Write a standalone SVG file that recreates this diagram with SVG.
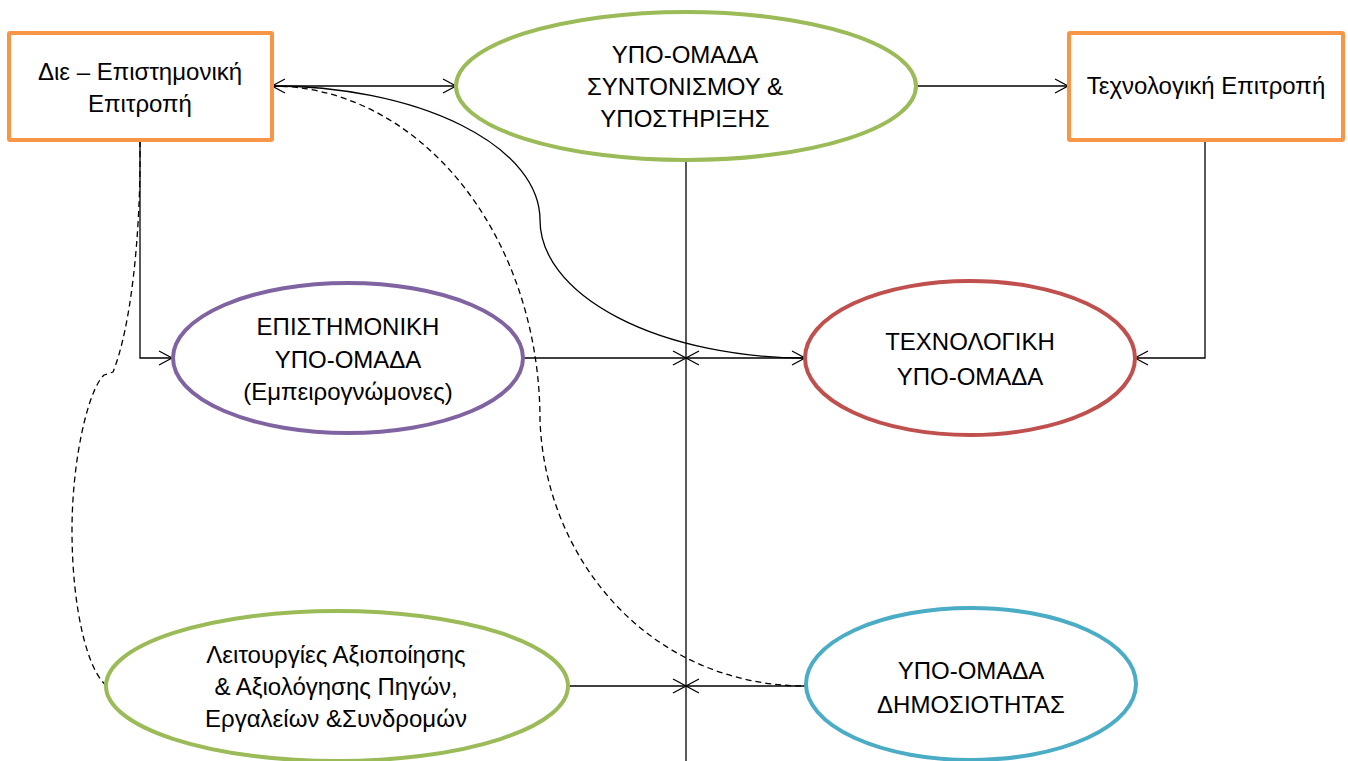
<svg xmlns="http://www.w3.org/2000/svg" width="1348" height="761" viewBox="0 0 1348 761">
<style>
  .lbl { font-family: "Liberation Sans", Arial, sans-serif; font-size: 24px; fill: #000; text-anchor: middle; }
  .box { fill: #fff; stroke: #F79646; stroke-width: 4; }
  .ell { fill: #fff; stroke-width: 4; }
  .conn { fill: none; stroke: #000; stroke-width: 1.3; }
  .dash { fill: none; stroke: #000; stroke-width: 1.3; stroke-dasharray: 6 4; }
</style>
<defs>
  <marker id="arr" viewBox="-15 -9 17 18" refX="0" refY="0" markerWidth="17" markerHeight="18" markerUnits="userSpaceOnUse" orient="auto-start-reverse" overflow="visible">
    <path d="M-13,-7 L0,0 L-13,7" fill="none" stroke="#000" stroke-width="1.3"/>
  </marker>
</defs>
<rect width="1348" height="761" fill="#fff"/>

<g id="connectors">
  <line class="conn" x1="686" y1="160" x2="686" y2="761"/>
  <line class="conn" x1="272" y1="86" x2="456" y2="86" marker-start="url(#arr)" marker-end="url(#arr)"/>
  <line class="conn" x1="916" y1="86" x2="1068" y2="86" marker-end="url(#arr)"/>
  <polyline class="conn" points="140,141 140,358 172,358" marker-end="url(#arr)"/>
  <polyline class="conn" points="1205,141 1205,358 1135,358" marker-end="url(#arr)"/>
  <line class="conn" x1="523" y1="358" x2="686" y2="358" marker-end="url(#arr)"/>
  <line class="conn" x1="805" y1="358" x2="686" y2="358" marker-end="url(#arr)"/>
  <line class="conn" x1="568" y1="686" x2="686" y2="686" marker-end="url(#arr)"/>
  <line class="conn" x1="806" y1="686" x2="686" y2="686" marker-end="url(#arr)"/>
  <path class="conn" d="M272,86 A268,134 0 0 1 540,220 A266,138 0 0 0 805,358" marker-end="url(#arr)"/>
  <path class="dash" d="M272,86 A268,334 0 0 1 540,420 C545,560 650,686 806,686"/>
  <path class="dash" d="M140,141 C141,240 130,330 113,372 L104,375 C88,390 72,460 72,530 C72,610 88,672 107,686"/>
</g>

<g id="node-die">
  <rect class="box" x="9" y="33" width="263" height="107" rx="1"/>
  <text class="lbl" x="140" y="80">Διε – Επιστημονική</text>
  <text class="lbl" x="140" y="112">Επιτροπή</text>
</g>

<g id="node-syntonismou">
  <ellipse class="ell" stroke="#9BBB59" cx="686" cy="86" rx="230" ry="74"/>
  <text class="lbl" x="685" y="63">ΥΠΟ-ΟΜΑΔΑ</text>
  <text class="lbl" x="685" y="95">ΣΥΝΤΟΝΙΣΜΟΥ &amp;</text>
  <text class="lbl" x="685" y="127">ΥΠΟΣΤΗΡΙΞΗΣ</text>
</g>

<g id="node-tech-committee">
  <rect class="box" x="1069" y="33" width="274" height="107" rx="1"/>
  <text class="lbl" x="1206" y="94">Τεχνολογική Επιτροπή</text>
</g>

<g id="node-epistimoniki">
  <ellipse class="ell" stroke="#8064A2" cx="348" cy="358" rx="175" ry="75"/>
  <text class="lbl" x="348" y="335">ΕΠΙΣΤΗΜΟΝΙΚΗ</text>
  <text class="lbl" x="348" y="368">ΥΠΟ-ΟΜΑΔΑ</text>
  <text class="lbl" x="348" y="400">(Εμπειρογνώμονες)</text>
</g>

<g id="node-technologiki">
  <ellipse class="ell" stroke="#C0504D" cx="970" cy="358" rx="165" ry="77"/>
  <text class="lbl" x="970" y="350">ΤΕΧΝΟΛΟΓΙΚΗ</text>
  <text class="lbl" x="970" y="385">ΥΠΟ-ΟΜΑΔΑ</text>
</g>

<g id="node-leitourgies">
  <ellipse class="ell" stroke="#9BBB59" cx="337" cy="686" rx="231" ry="75"/>
  <text class="lbl" x="336" y="663">Λειτουργίες Αξιοποίησης</text>
  <text class="lbl" x="336" y="695">&amp; Αξιολόγησης Πηγών,</text>
  <text class="lbl" x="336" y="727">Εργαλείων &amp;Συνδρομών</text>
</g>

<g id="node-dimosiotitas">
  <ellipse class="ell" stroke="#4BACC6" cx="971" cy="684" rx="165" ry="76"/>
  <text class="lbl" x="971" y="679">ΥΠΟ-ΟΜΑΔΑ</text>
  <text class="lbl" x="971" y="713">ΔΗΜΟΣΙΟΤΗΤΑΣ</text>
</g>
</svg>
